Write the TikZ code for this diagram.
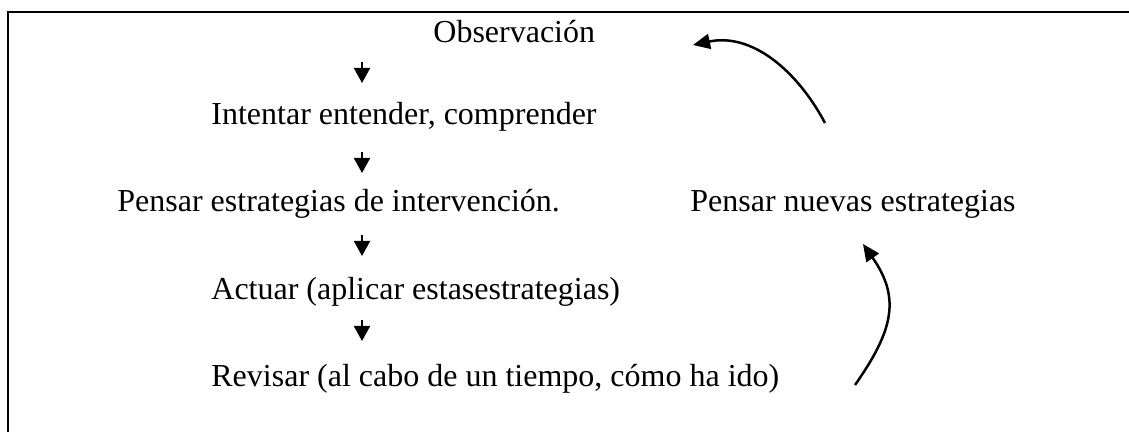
\documentclass[tikz,border=0pt]{standalone}
\usepackage{fontspec}
\setmainfont{Liberation Serif}
\usetikzlibrary{arrows.meta}

\tikzset{
  paso/.style={anchor=base west, inner sep=0pt, font=\fontsize{16}{19}\selectfont},
  baja/.style={line width=1pt, -{Triangle[length=7.5pt,width=8pt]}},
  vuelta/.style={line width=1.25pt, -{Triangle[length=8.5pt,width=7.5pt]}}
}

\begin{document}
\begin{tikzpicture}[x=0.5pt, y=0.5pt]
    \useasboundingbox (0,0) rectangle (1129,432);
    % marco (solo arriba e izquierda)
    \draw[line width=1.35pt] (8,0) -- (8,420) -- (1129,420);

    % pasos
    \node[paso] (obs) at (433,389) {Observación};
    \node[paso] (ent) at (211,307) {Intentar entender, comprender};
    \node[paso] (est) at (117,220) {Pensar estrategias de intervención.};
    \node[paso] (act) at (211,132) {Actuar (aplicar estasestrategias)};
    \node[paso] (rev) at (211,45) {Revisar (al cabo de un tiempo, cómo ha ido)};
    \node[paso] (nue) at (690,220) {Pensar nuevas estrategias};

    % flechas hacia abajo
    \coordinate (f1) at (362,370);
    \coordinate (f2) at (362,280);
    \coordinate (f3) at (362,197);
    \coordinate (f4) at (362,112);
    \foreach \f in {f1,f2,f3,f4}
      \draw[baja] (\f) -- ++(0,-21);

    % ciclo
    \coordinate (r1) at (855,47);
    \coordinate (r2) at (863,188);
    \coordinate (n1) at (825,309);
    \coordinate (n2) at (693,387);
    \draw[vuelta] (r1) to[out=55, in=-55, looseness=1.2] (r2);
    \draw[vuelta] (n1) to[out=118, in=12] (n2);
  \end{tikzpicture}
\end{document}
